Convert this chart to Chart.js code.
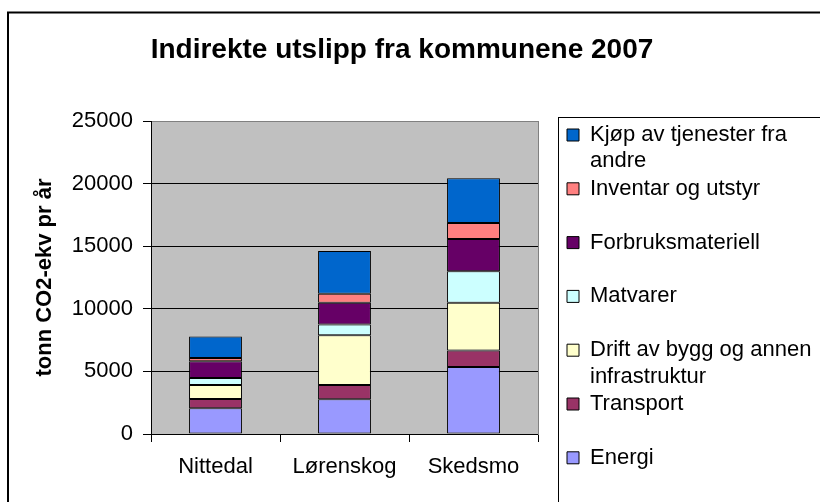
<!DOCTYPE html>
<html>
<head>
<meta charset="utf-8">
<script src="https://cdn.jsdelivr.net/npm/chart.js@4"></script>
<style>
  html, body { margin: 0; padding: 0; background: #ffffff; }
  #wrap { position: relative; width: 820px; height: 502px; overflow: hidden; }
</style>
</head>
<body>
<div id="wrap"><canvas id="c"></canvas></div>
<script>
// ---- data ----
const categories = ['Nittedal', 'Lørenskog', 'Skedsmo'];
const seriesNames = [
  'Energi',
  'Transport',
  'Drift av bygg og annen infrastruktur',
  'Matvarer',
  'Forbruksmateriell',
  'Inventar og utstyr',
  'Kjøp av tjenester fra andre'
];
const legendLines = [
  ['Energi'],
  ['Transport', ''],
  ['Drift av bygg og annen', 'infrastruktur'],
  ['Matvarer', ''],
  ['Forbruksmateriell', ''],
  ['Inventar og utstyr', ''],
  ['Kjøp av tjenester fra', 'andre']
];
const energi           = [2050, 2770, 5360];
const transport        = [750, 1150, 1310];
const driftBygg        = [1120, 3970, 3810];
const matvarer         = [560, 860, 2510];
const forbruksmateriell= [1330, 1730, 2580];
const inventar         = [270, 720, 1280];
const kjopTjenester    = [1710, 3410, 3580];
const seriesValues = [energi, transport, driftBygg, matvarer, forbruksmateriell, inventar, kjopTjenester];
const seriesColors = ['#9999FF', '#993366', '#FFFFCC', '#CCFFFF', '#660066', '#FF8080', '#0066CC'];
const yMin = 0, yMax = 25000, yStep = 5000;
const chartTitle = 'Indirekte utslipp fra kommunene 2007';
const yAxisTitle = 'tonn CO2-ekv pr år';

const FONT = "'Liberation Sans', Arial, sans-serif";

const decor = {
  id: 'decor',
  beforeDraw(chart) {
    const { ctx, chartArea: a } = chart;
    ctx.save();
    ctx.fillStyle = '#C0C0C0';
    ctx.fillRect(a.left, a.top, a.right - a.left, a.bottom - a.top);
    ctx.restore();
  },
  afterDraw(chart) {
    const { ctx, chartArea: a } = chart;
    const L = chart.legend;
    ctx.save();
    ctx.strokeStyle = '#000';
    ctx.lineWidth = 2;
    ctx.strokeRect(8, 12.5, 1000, 1000);
    ctx.lineWidth = 1;
    ctx.strokeRect(Math.round(L.left - 8) + 0.5, Math.round(a.top - 4) + 0.5, 1000, 1000);
    ctx.restore();
  }
};

const datasets = seriesNames.map((name, i) => ({
  label: name,
  data: seriesValues[i],
  backgroundColor: seriesColors[i],
  borderColor: '#000000',
  borderWidth: 1,
  borderSkipped: false,
  barPercentage: 0.41,
  categoryPercentage: 1.0
}));

new Chart(document.getElementById('c'), {
  type: 'bar',
  data: { labels: categories, datasets },
  plugins: [decor],
  options: {
    responsive: true,
    maintainAspectRatio: false,
    animation: false,
    layout: { padding: { left: -16, top: 0, right: 0, bottom: 0 } },
    plugins: {
      tooltip: { enabled: false },
      title: {
        display: true,
        text: chartTitle,
        color: '#000',
        font: { family: FONT, size: 28, weight: 'bold', lineHeight: 1.2 },
        padding: { top: 33, bottom: 54.4 }
      },
      legend: {
        display: true,
        position: 'right',
        align: 'start',
        reverse: true,
        maxWidth: 254,
        title: { display: true, text: ' ', padding: { top: 113, bottom: 0 }, font: { size: 10, lineHeight: 1 } },
        labels: {
          color: '#000',
          font: { family: FONT, size: 22, lineHeight: 1.2 },
          boxWidth: 12,
          boxHeight: 12,
          padding: 1,
          generateLabels(chart) {
            const items = Chart.defaults.plugins.legend.labels.generateLabels(chart);
            items.forEach(it => { it.text = legendLines[it.datasetIndex]; it.lineWidth = 1; it.strokeStyle = '#000'; });
            return items;
          }
        }
      }
    },
    scales: {
      x: {
        stacked: true,
        grid: { display: true, drawOnChartArea: false, drawTicks: true, tickLength: 8, tickColor: '#000', offset: true },
        border: { display: true, color: '#000', width: 1 },
        ticks: { color: '#000', padding: 12, font: { family: FONT, size: 22, lineHeight: 1.2 }, maxRotation: 0 },
        afterFit(s) { s.height = 68; }
      },
      y: {
        stacked: true,
        min: yMin,
        max: yMax,
        grid: {
          color: c => (c.tick && c.tick.value === yMax) ? '#808080' : '#000000',
          tickColor: '#000',
          tickLength: 8,
          lineWidth: 1
        },
        border: { display: true, color: '#000', width: 1 },
        ticks: {
          stepSize: yStep,
          color: '#000',
          padding: 10,
          font: { family: FONT, size: 22, lineHeight: 1.2 },
          callback: v => String(v)
        },
        title: {
          display: true,
          text: yAxisTitle,
          color: '#000',
          font: { family: FONT, size: 22, weight: 'bold', lineHeight: 1.2 },
          padding: { top: 48, bottom: 0 }
        },
        afterFit(s) { s.width = 167; }
      },
      yR: {
        axis: 'y',
        position: 'right',
        display: true,
        grid: { display: false, drawTicks: false },
        ticks: { display: false },
        border: { display: true, color: '#808080', width: 1 },
        afterFit(s) { s.width = 28; }
      }
    }
  }
});
</script>
</body>
</html>
